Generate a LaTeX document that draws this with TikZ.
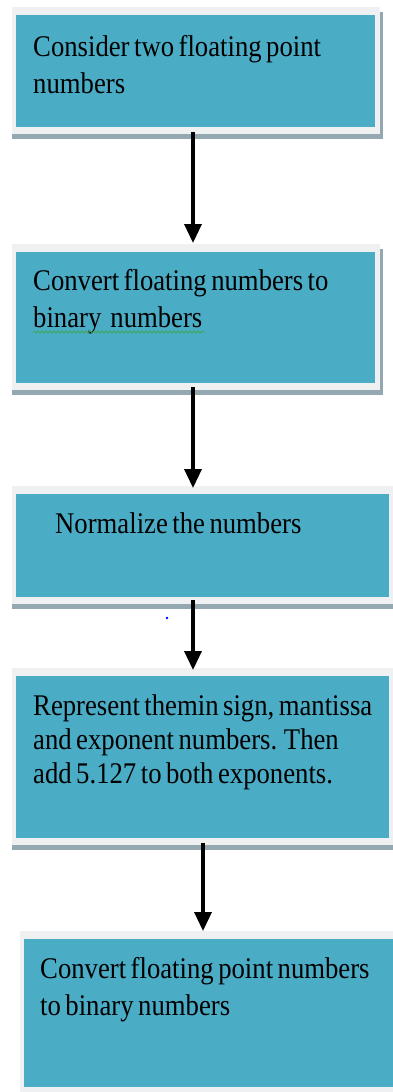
\documentclass[tikz,border=0pt]{standalone}
\usepackage{fontspec}
\newfontfamily\boxfont[FakeStretch=0.89]{Liberation Serif}
\usetikzlibrary{arrows.meta,backgrounds,decorations.pathmorphing}
\definecolor{tealfill}{HTML}{4BACC6}
\definecolor{framec}{HTML}{EEF0F1}
\definecolor{shadowc}{HTML}{93A8B1}
\definecolor{squig}{HTML}{3DA84A}

% light frame with a soft drop shadow behind a step box
\newcommand\stepframe[1]{%
  \fill[shadowc] ([shift={(-4pt,3pt)}]#1.north west) rectangle ([shift={(8pt,-12pt)}]#1.south east);
  \fill[framec] ([shift={(-4pt,8pt)}]#1.north west) rectangle ([shift={(5pt,-7pt)}]#1.south east);
}
% narrow serif used in the boxes, with tight word spacing
\newcommand\stepfont[1]{\boxfont\fontsize{30}{#1}\selectfont\spaceskip=0.15em plus 0.05em\relax}

\begin{document}
\begin{tikzpicture}[x=1pt,y=-1pt,
  stepbox/.style={fill=tealfill, draw=none, inner sep=0pt, outer sep=0pt},
  steptext/.style={anchor=base west, inner sep=0pt, align=left, text=black,
    font=\stepfont{37}},
  flow/.style={line width=3.5pt, -{Triangle[width=17pt,length=19pt]}},
]
\useasboundingbox (0,0) rectangle (393,1092);

% step boxes
\node[stepbox, minimum width=359pt, minimum height=112pt] (b1) at (195.5,71) {};
\node[stepbox, minimum width=359pt, minimum height=131pt] (b2) at (195.5,317.5) {};
\node[stepbox, minimum width=373pt, minimum height=103pt] (b3) at (202.5,545.5) {};
\node[stepbox, minimum width=373pt, minimum height=162pt] (b4) at (202.5,757) {};
\node[stepbox, minimum width=374pt, minimum height=148pt] (b5) at (211,1013) {};

\begin{scope}[on background layer]
  \stepframe{b1}
  \stepframe{b2}
  \stepframe{b3}
  \stepframe{b4}
  \stepframe{b5}
\end{scope}

% step texts (each placed by the baseline of its last line)
\node[steptext] (t1) at (33,93) {Consider two floating point\\numbers};
\node[steptext] (t2) at (33,327) {Convert floating numbers to\\binary~ numbers};
\node[steptext] (t3) at (55,533) {Normalize the numbers};
\node[steptext, font=\stepfont{34}] (t4) at (33,783)
  {Represent themin sign, mantissa\\and exponent numbers. Then\\add 5.127 to both exponents.};
\node[steptext] (t5) at (40,1015) {Convert floating point numbers\\to binary numbers};

% spelling squiggle under the second line of step 2
\draw[squig, line width=0.7pt, decorate, decoration={snake, amplitude=1.2pt, segment length=4pt}]
  ([yshift=-5pt]t2.base west) -- ++(172,0);

% stray dot
\fill[blue] (167,618) circle (1.4pt);

% connectors
\coordinate (a1s) at ([xshift=-2.5pt,yshift=-5pt]b1.south);
\coordinate (a1t) at (a1s |- b2.north);
\draw[flow] (a1s) -- ([yshift=9pt]a1t);

\coordinate (a2s) at ([xshift=-2.5pt,yshift=-4pt]b2.south);
\coordinate (a2t) at (a2s |- b3.north);
\draw[flow] (a2s) -- ([yshift=6pt]a2t);

\coordinate (a3s) at ([xshift=-9.5pt,yshift=-3pt]b3.south);
\coordinate (a3t) at (a3s |- b4.north);
\draw[flow] (a3s) -- ([yshift=6pt]a3t);

\coordinate (a4s) at ([xshift=0.5pt,yshift=-5pt]b4.south);
\coordinate (a4t) at (a4s |- b5.north);
\draw[flow] (a4s) -- ([yshift=8pt]a4t);
\end{tikzpicture}
\end{document}
